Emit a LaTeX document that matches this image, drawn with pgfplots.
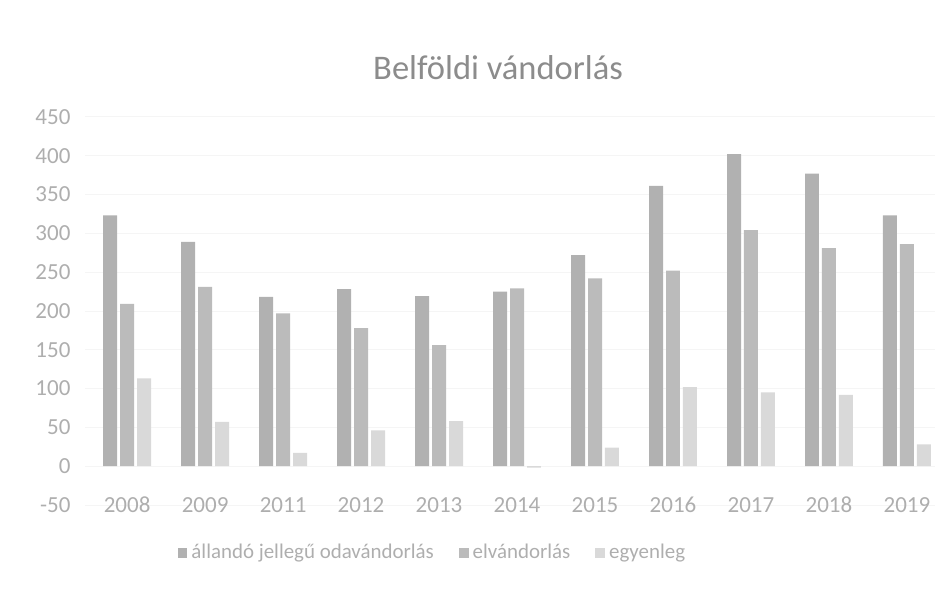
\documentclass[border=0pt]{standalone}
\usepackage{fontspec}
\setmainfont{Carlito}
\usepackage{pgfplots}
\pgfplotsset{compat=1.18}
\usepackage{pgfplotstable}
\definecolor{barA}{HTML}{B1B1B1}
\definecolor{barB}{HTML}{BBBBBB}
\definecolor{barC}{HTML}{D9D9D9}
\definecolor{txt}{HTML}{AEAEAE}
\definecolor{ttl}{HTML}{8C8C8C}

% x = category index, 2008..2019 (no 2010)
\pgfplotstableread{
x odav elv egy
0 323 209 113
1 289 231 57
2 218 197 17
3 228 178 46
4 219 156 58
5 225 229 -2
6 272 242 24
7 361 252 102
8 402 304 95
9 377 281 92
10 323 286 28
}\vandor

\begin{document}
\begin{tikzpicture}
\begin{axis}[
  at={(0,0)}, anchor=south west,
  scale only axis,
  width=14.28cm, height=6.52cm,
  ybar=0.05cm,
  bar width=0.235cm,
  xmin=-0.54, xmax=10.36,
  ymin=-50, ymax=450,
  ytick={-50,0,...,450},
  xtick=data,
  xticklabels={2008,2009,2011,2012,2013,2014,2015,2016,2017,2018,2019},
  axis line style={draw=none},
  major tick length=0pt,
  ymajorgrids,
  grid style={draw=black!4},
  /pgf/number format/assume math mode=true,
  tick label style={font=\fontsize{11}{13}\selectfont, text=txt},
  xticklabel style={anchor=center, yshift=0pt},
  yticklabel style={anchor=east, xshift=-0.12cm},
  title={Belföldi vándorlás},
  title style={font=\fontsize{16.5}{19}\selectfont, text=ttl, at={(0.5,1)}, anchor=center, yshift=0.62cm, xshift=-0.2cm},
  legend style={draw=none, fill=none, at={(0.41,-0.124)}, anchor=center,
    font=\fontsize{10}{12}\selectfont, text=txt, /tikz/every even column/.append style={column sep=0.35cm}},
  legend columns=3,
  legend image code/.code={\fill[#1] (0cm,-0.08cm) rectangle (0.16cm,0.08cm);},
]
\addplot[fill=barA, draw=none] table[x=x, y=odav] {\vandor};
\addplot[fill=barB, draw=none] table[x=x, y=elv] {\vandor};
\addplot[fill=barC, draw=none] table[x=x, y=egy] {\vandor};
\legend{állandó jellegű odavándorlás, elvándorlás, egyenleg}
\end{axis}
\path[use as bounding box] ({-85*0.0168},{-89*0.0168}) rectangle ({866*0.0168},{505*0.0168});
\end{tikzpicture}
\end{document}
